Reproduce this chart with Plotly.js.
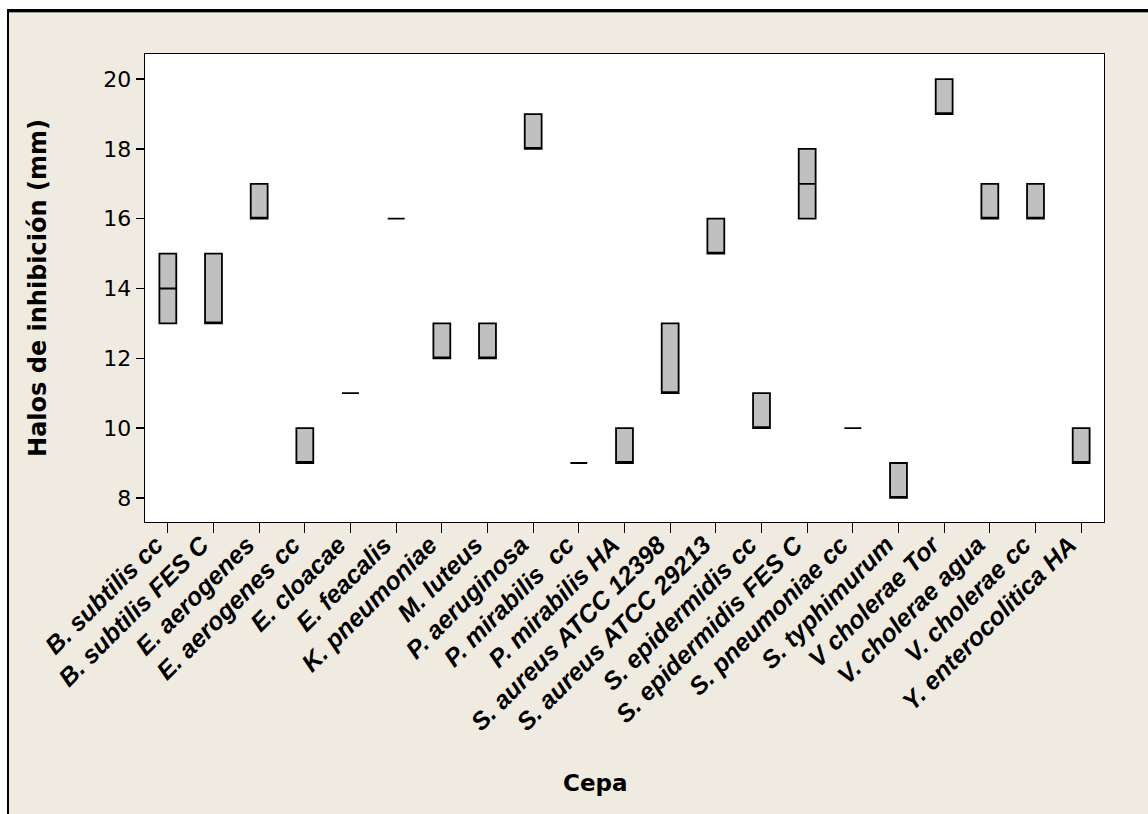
<!DOCTYPE html>
<html>
<head>
<meta charset="utf-8">
<script src="https://cdn.plot.ly/plotly-3.0.1.min.js"></script>
<style>html,body{margin:0;padding:0;background:#fff;}#chart{width:1148px;height:814px;}</style>
</head>
<body>
<div id="chart"></div>
<script>
const cepas = ["B. subtilis cc","B. subtilis FES C","E. aerogenes","E. aerogenes cc","E. cloacae","E. feacalis","K. pneumoniae","M. luteus","P. aeruginosa","P. mirabilis  cc","P. mirabilis HA","S. aureus ATCC 12398","S. aureus ATCC 29213","S. epidermidis cc","S. epidermidis FES C","S. pneumoniae cc","S. typhimurum","V cholerae Tor","V. cholerae agua","V. cholerae cc","Y. enterocolitica HA"];
const q1Vals     = [13,13,16, 9,11,16,12,12,18, 9, 9,11,15,10,16,10, 8,19,16,16, 9];
const medianVals = [14,13,16, 9,11,16,12,12,18, 9, 9,11,15,10,17,10, 8,19,16,16, 9];
const q3Vals     = [15,15,17,10,11,16,13,13,19, 9,10,13,16,11,18,10, 9,20,17,17,10];
const minVals    = [13,13,16, 9,11,16,12,12,18, 9, 9,11,15,10,16,10, 8,19,16,16, 9];
const maxVals    = [15,15,17,10,11,16,13,13,19, 9,10,13,16,11,18,10, 9,20,17,17,10];
const yTicks = [8,10,12,14,16,18,20];
const xTitle = 'Cepa';
const yTitle = 'Halos de inhibición (mm)';

const L = 145, R = 1104, T = 54, B = 522, W = 1148, H = 814;
const px = v => (v - L) / (R - L);
const py = v => (B - v) / (B - T);

const trace = {
  type: 'box',
  x: cepas,
  q1: q1Vals,
  median: medianVals,
  q3: q3Vals,
  lowerfence: minVals,
  upperfence: maxVals,
  width: 0.37,
  whiskerwidth: 0,
  boxpoints: false,
  fillcolor: '#C0C0C0',
  line: {color: '#000000', width: 1.8},
  hoverinfo: 'skip'
};

const layout = {
  width: W, height: H,
  margin: {l: L, r: W - R, t: T, b: H - B, pad: 0},
  paper_bgcolor: '#EFEBE1',
  plot_bgcolor: '#FFFFFF',
  showlegend: false,
  font: {family: 'Tahoma, "DejaVu Sans", sans-serif', color: '#000'},
  xaxis: {
    type: 'category',
    range: [-0.5, 20.5],
    tickangle: -45,
    ticks: 'outside', ticklen: 10, tickwidth: 1.3, tickcolor: '#000',
    tickfont: {family: '"Liberation Sans", Arial, sans-serif', size: 25, weight: 'bold', style: 'italic', color: '#000'},
    ticklabelshift: -12,
    ticklabelstandoff: -13,
    showline: true, linecolor: '#000', linewidth: 1.3, mirror: true,
    showgrid: false, zeroline: false,
    automargin: false
  },
  yaxis: {
    range: [7.31, 20.72],
    tickvals: yTicks,
    ticktext: yTicks.map(String),
    ticks: 'outside', ticklen: 8, tickwidth: 1.3, tickcolor: '#000',
    tickfont: {family: 'Tahoma, "DejaVu Sans", sans-serif', size: 22, color: '#000'},
    showline: true, linecolor: '#000', linewidth: 1.3, mirror: true,
    showgrid: false, zeroline: false,
    title: {text: yTitle, font: {family: '"DejaVu Sans", sans-serif', size: 24, weight: 'bold'}, standoff: 50},
    automargin: false
  },
  annotations: [
    {text: xTitle, xref: 'paper', yref: 'paper', x: px(595), y: py(783), xanchor: 'center', yanchor: 'middle', showarrow: false,
     font: {family: '"DejaVu Sans", sans-serif', size: 23, weight: 'bold', color: '#000'}}
  ],
  shapes: [
    {type: 'rect', xref: 'paper', yref: 'paper', x0: px(-5), x1: px(W + 5), y0: py(9), y1: py(-5), fillcolor: '#FFFFFF', line: {width: 0}},
    {type: 'rect', xref: 'paper', yref: 'paper', x0: px(-5), x1: px(7), y0: py(H + 5), y1: py(-5), fillcolor: '#FFFFFF', line: {width: 0}},
    {type: 'line', xref: 'paper', yref: 'paper', x0: px(7), x1: px(W + 5), y0: py(10.5), y1: py(10.5), line: {color: '#000', width: 3}},
    {type: 'line', xref: 'paper', yref: 'paper', x0: px(9), x1: px(W + 5), y0: py(12.5), y1: py(12.5), line: {color: '#9A9A9A', width: 1}},
    {type: 'line', xref: 'paper', yref: 'paper', x0: px(8), x1: px(8), y0: py(9), y1: py(H + 5), line: {color: '#000', width: 2}}
  ]
};

Plotly.newPlot('chart', [trace], layout, {displayModeBar: false, staticPlot: true});
</script>
</body>
</html>
